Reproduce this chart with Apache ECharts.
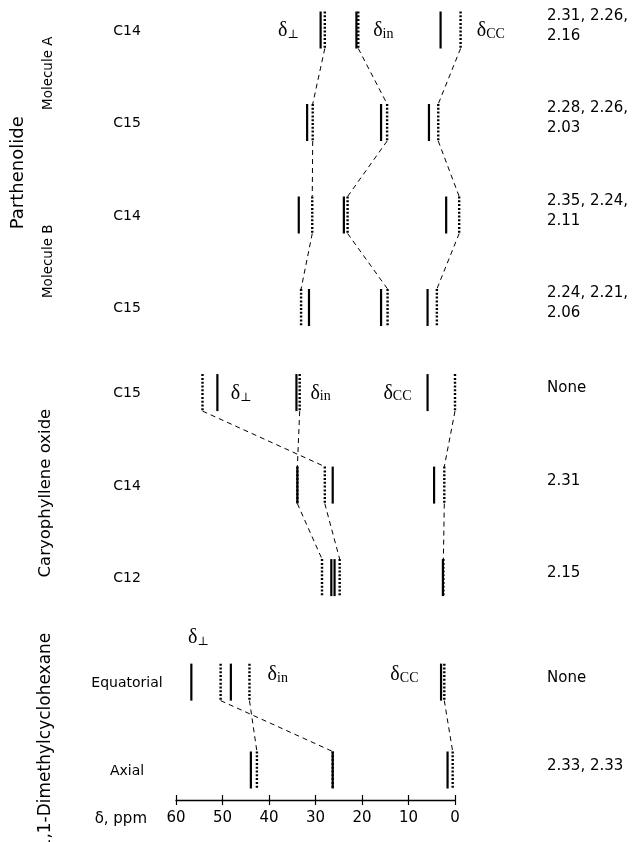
<!DOCTYPE html>
<html><head><meta charset="utf-8">
<script src="https://cdn.jsdelivr.net/npm/echarts@6/dist/echarts.min.js"></script>
<style>html,body{margin:0;padding:0;background:#fff}#c{width:637px;height:842px}</style>
</head><body><div id="c"></div>
<script>
// ---------------- data ----------------
const rowLabels = ['C14','C15','C14','C15','C15','C14','C12','Equatorial','Axial'];
const rowGroup  = [0,0,0,0,1,1,1,2,2];
const hbLabels  = [['2.31, 2.26,','2.16'],['2.28, 2.26,','2.03'],['2.35, 2.24,','2.11'],['2.24, 2.21,','2.06'],['None'],['2.31'],['2.15'],['None'],['2.33, 2.33']];
// shifts in ppm: solid = experimental, dotted = calculated
const perpExp  = [28.9, 31.8, 33.6, 31.4, 51.1, 26.3, 25.9, 56.7, 26.3];
const perpCalc = [28.0, 30.6, 30.7, 33.1, 54.3, 28.0, 24.8, 50.4, 26.3];
const inExp    = [21.2, 15.9, 23.9, 15.9, 34.1, 33.9, 26.6, 48.2, 43.9];
const inCalc   = [20.8, 14.6, 23.1, 14.5, 33.4, 33.9, 28.6, 44.2, 42.6];
const ccExp    = [3.1, 5.6, 1.9, 5.9, 5.9, 4.5, 2.6, 3.0, 1.6];
const ccCalc   = [-1.2, 3.6, -0.9, 3.9, 0.0, 2.3, 2.5, 2.3, 0.5];
const xTicks   = [0, 10, 20, 30, 40, 50, 60];
const groupNames = ['Parthenolide','Caryophyllene oxide','1,1-Dimethylcyclohexane'];
const subNames   = ['Molecule A','Molecule B'];

// ---------------- layout ----------------
const rowSlots = [0, 1, 2, 3, 3.92, 4.92, 5.92, 7.05, 8];
const SLOT_PX = 92.5, TOP_PX = 30, GRID_H = 800;
const HALF = 18.5;
const SANS = '"DejaVu Sans", sans-serif';
const SERIF = '"Liberation Serif", "DejaVu Serif", serif';
const deltaLabels = [
  {row:0, ppm:33.6, kind:'perp', align:'right'},
  {row:0, ppm:17.6, kind:'in', align:'left'},
  {row:0, ppm:-4.7, kind:'cc', align:'left'},
  {row:4, ppm:48.2, kind:'perp', align:'left'},
  {row:4, ppm:31.1, kind:'in', align:'left'},
  {row:4, ppm:15.4, kind:'cc', align:'left'},
  {row:7, ppm:57.4, kind:'perp', align:'left', dy:-45},
  {row:7, ppm:40.3, kind:'in', align:'left', dy:-8},
  {row:7, ppm:13.9, kind:'cc', align:'left', dy:-8}
];
const groupLayout = [
  {rows:[0,3], x:18, size:18, dy:4},
  {rows:[4,6], x:46, size:16.5, dy:8},
  {rows:[7,8], x:46, size:17, dy:15}
];
const subLayout = [
  {rows:[0,1], x:48, size:13.5, dy:-3},
  {rows:[2,3], x:48, size:13.5, dy:0}
];

const kinds = [[perpExp, perpCalc],[inExp, inCalc],[ccExp, ccCalc]];
const n = rowLabels.length;
const richDelta = {
  d:{fontFamily:SERIF, fontSize:20, lineHeight:22, verticalAlign:'bottom', color:'#000'},
  p:{fontFamily:'"DejaVu Serif", serif', fontSize:12, lineHeight:16, verticalAlign:'bottom', color:'#000'},
  s:{fontFamily:SERIF, fontSize:14, lineHeight:16, verticalAlign:'bottom', color:'#000'},
  c:{fontFamily:SERIF, fontSize:14, lineHeight:16, verticalAlign:'bottom', color:'#000'}
};
const deltaText = {perp:'{d|δ}{p|⊥}', in:'{d|δ}{s|in}', cc:'{d|δ}{c|CC}'};

function yOf(api, slot){ return api.coord([0, slot])[1]; }
function xOf(api, v){ return api.coord([v, 0])[0]; }

function renderMarks(params, api){
  const i = api.value(0);
  const y = yOf(api, rowSlots[i]);
  const ch = [];
  kinds.forEach(([ex, ca]) => {
    const xs = xOf(api, ex[i]);
    ch.push({type:'line', shape:{x1:xs, y1:y-HALF, x2:xs, y2:y+HALF}, style:{stroke:'#000', lineWidth:2.2}});
    const xd = xOf(api, ca[i]);
    ch.push({type:'line', shape:{x1:xd, y1:y-HALF, x2:xd, y2:y+HALF}, style:{stroke:'#000', lineWidth:2.4, lineDash:[2,1.8]}});
    if (i + 1 < n && rowGroup[i+1] === rowGroup[i]) {
      const y2 = yOf(api, rowSlots[i+1]);
      const xn = xOf(api, ca[i+1]);
      ch.push({type:'line', shape:{x1:xd, y1:y+HALF, x2:xn, y2:y2-HALF}, style:{stroke:'#000', lineWidth:1, lineDash:[5,4]}});
    }
  });
  return {type:'group', children:ch};
}

function renderText(params, api){
  const i = api.value(0);
  const y = yOf(api, rowSlots[i]);
  const ch = [];
  ch.push({type:'text', style:{text:rowLabels[i], x:127, y:y+1, align:'center', verticalAlign:'middle', fontFamily:SANS, fontSize:14, fill:'#000'}});
  ch.push({type:'text', style:{text:hbLabels[i].join('\n'), x:547, y:y-4, align:'left', verticalAlign:'middle', fontFamily:SANS, fontSize:15, lineHeight:20, fill:'#000'}});
  deltaLabels.filter(d => d.row === i).forEach(d => {
    ch.push({type:'text', style:{text:deltaText[d.kind], rich:richDelta, x:xOf(api, d.ppm), y:y + (d.dy||0), align:d.align, verticalAlign:'middle'}});
  });
  if (i === 0) {
    groupLayout.forEach((g, k) => {
      const yc = (yOf(api, rowSlots[g.rows[0]]) + yOf(api, rowSlots[g.rows[1]])) / 2 + g.dy;
      ch.push({type:'text', x:g.x, y:yc, rotation:Math.PI/2, style:{text:groupNames[k], x:0, y:0, align:'center', verticalAlign:'middle', fontFamily:SANS, fontSize:g.size, fill:'#000'}});
    });
    subLayout.forEach((g, k) => {
      const yc = (yOf(api, rowSlots[g.rows[0]]) + yOf(api, rowSlots[g.rows[1]])) / 2 + g.dy;
      ch.push({type:'text', x:g.x, y:yc, rotation:Math.PI/2, style:{text:subNames[k], x:0, y:0, align:'center', verticalAlign:'middle', fontFamily:SANS, fontSize:g.size, fill:'#000'}});
    });
    const ya = yOf(api, rowSlots[n-1]) + 49;
    ch.push({type:'text', style:{text:'δ, ppm', x:147, y:ya, align:'right', verticalAlign:'middle', fontFamily:SANS, fontSize:15, fill:'#000'}});
  }
  return {type:'group', children:ch};
}

const yMin = -TOP_PX / SLOT_PX;
const yMax = yMin + GRID_H / SLOT_PX;
const axisBase = {
  type:'value', inverse:true, min:0, max:60, interval:10, position:'bottom', offset:0,
  splitLine:{show:false}
};
const chart = echarts.init(document.getElementById('c'), null, {renderer:'canvas'});
chart.setOption({
  animation:false,
  backgroundColor:'#fff',
  grid:{left:176, right:182, top:0, height:GRID_H, containLabel:false},
  xAxis:[
    Object.assign({}, axisBase, {
      axisLine:{show:true, onZero:false, lineStyle:{color:'#000', width:1.3}},
      axisTick:{show:true, inside:false, length:5, lineStyle:{color:'#000', width:1.2}},
      axisLabel:{show:true, color:'#000', fontFamily:SANS, fontSize:15, margin:11,
        customValues:xTicks, formatter:v => String(v)}
    }),
    Object.assign({}, axisBase, {
      axisLine:{show:false, onZero:false},
      axisTick:{show:true, inside:true, length:5, lineStyle:{color:'#000', width:1.2}},
      axisLabel:{show:false}
    })
  ],
  yAxis:{type:'value', inverse:true, min:yMin, max:yMax, show:false},
  series:[
    {type:'custom', name:'marks', renderItem:renderMarks, clip:false, silent:true,
      encode:{x:1, y:2}, data:rowLabels.map((r, i) => [i, 30, rowSlots[i]])},
    {type:'custom', name:'text', renderItem:renderText, clip:false, silent:true,
      encode:{x:1, y:2}, data:rowLabels.map((r, i) => [i, 30, rowSlots[i]])}
  ]
});
</script></body></html>
